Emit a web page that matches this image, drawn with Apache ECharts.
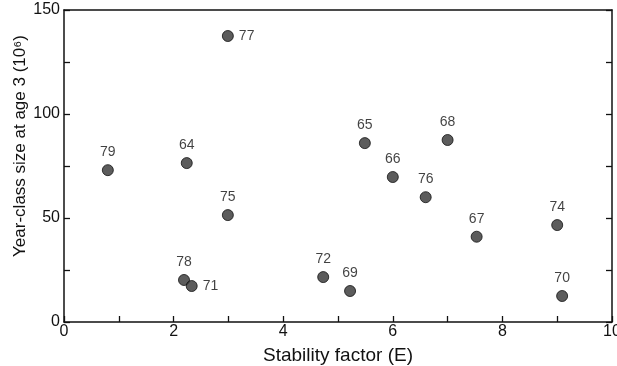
<!DOCTYPE html>
<html>
<head>
<meta charset="utf-8">
<script src="https://cdn.jsdelivr.net/npm/echarts@6/dist/echarts.min.js"></script>
<style>
  html, body { margin: 0; padding: 0; background: #fff; }
  #chart { width: 617px; height: 366px; }
</style>
</head>
<body>
<div id="chart"></div>
<script>
// year-class labels, stability factor (E), year-class size at age 3 (10^6)
const years     = ["77", "79", "64", "65", "68", "66", "76", "67", "74", "70", "72", "69", "75", "78", "71"];
const stability = [2.99, 0.80, 2.24, 5.49, 7.00, 6.00, 6.60, 7.53, 9.00, 9.09, 4.73, 5.22, 2.99, 2.19, 2.33];
const sizes     = [137.5, 73, 76.4, 86, 87.5, 69.7, 60, 41, 46.6, 12.5, 21.6, 14.9, 51.4, 20.2, 17.3];
const rightLabelYears = ["77", "71"];

const ink = "#111";
const font = "'Liberation Sans', Arial, sans-serif";

const points = years.map((y, i) => ({
  value: [stability[i], sizes[i]],
  name: y,
  label: rightLabelYears.includes(y)
    ? { position: "right", distance: 5 }
    : { position: "top", distance: 5 },
}));

const chart = echarts.init(document.getElementById("chart"), null, { renderer: "canvas" });

const lineStyle = { color: ink, width: 1.5 };
const tickStyle = { color: ink, width: 1.3 };

chart.setOption({
  animation: false,
  grid: { left: 64, right: 5, top: 10, bottom: 44, outerBoundsMode: "none", containLabel: false },
  xAxis: [
    {
      type: "value",
      min: 0, max: 10, interval: 1,
      name: "Stability factor (E)",
      nameLocation: "middle",
      nameGap: 24,
      nameTextStyle: { color: ink, fontFamily: font, fontSize: 19 },
      axisLine: { onZero: false, lineStyle },
      axisTick: { inside: true, length: 6, lineStyle: tickStyle },
      axisLabel: {
        color: ink, fontFamily: font, fontSize: 16, margin: 2,
        formatter: (v) => (v % 2 === 0 ? String(v) : ""),
      },
      splitLine: { show: false },
    },
    {
      type: "value",
      position: "top",
      min: 0, max: 10,
      axisLine: { show: true, onZero: false, lineStyle },
      axisTick: { show: false },
      axisLabel: { show: false },
      splitLine: { show: false },
    },
  ],
  yAxis: [
    {
      type: "value",
      min: 0, max: 150, interval: 25,
      name: "Year-class size at age 3 (10\u2076)",
      nameLocation: "middle",
      nameGap: 35,
      nameMoveOverlap: false,
      nameTextStyle: { color: ink, fontFamily: font, fontSize: 17, padding: [0, 0, 0, 40] },
      axisLine: { show: true, onZero: false, lineStyle },
      axisTick: { show: true, inside: true, length: 6, lineStyle: tickStyle },
      axisLabel: {
        color: ink, fontFamily: font, fontSize: 16, margin: 4,
        formatter: (v) => (v % 50 === 0 ? String(v) : ""),
      },
      splitLine: { show: false },
    },
    {
      type: "value",
      position: "right",
      min: 0, max: 150, interval: 25,
      axisLine: { show: true, onZero: false, lineStyle },
      axisTick: { show: true, inside: true, length: 6, lineStyle: tickStyle },
      axisLabel: { show: false },
      splitLine: { show: false },
    },
  ],
  series: [
    {
      type: "scatter",
      data: points,
      symbol: "circle",
      symbolSize: 11,
      itemStyle: { color: "#333", borderColor: "#111", borderWidth: 1 },
      label: {
        show: true,
        formatter: (p) => p.name,
        color: ink,
        fontFamily: font,
        fontSize: 14,
      },
    },
  ],
});
</script>
</body>
</html>
